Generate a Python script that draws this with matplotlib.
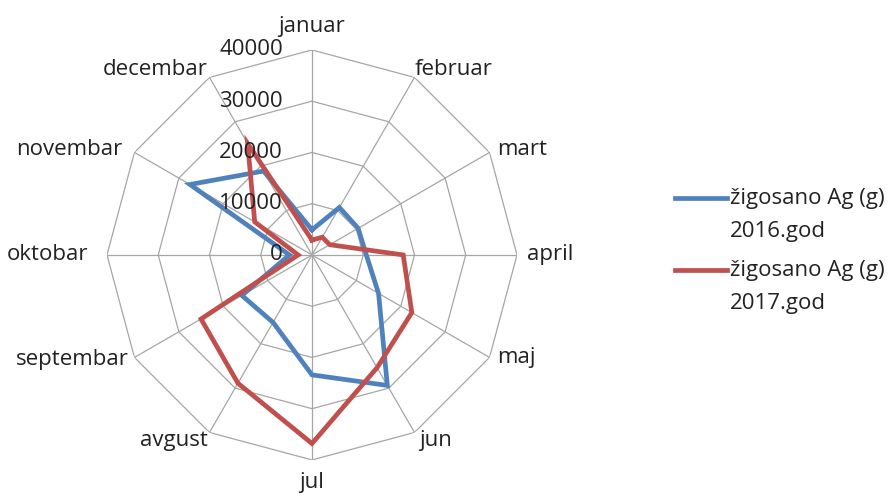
import numpy as np
import matplotlib.pyplot as plt
from matplotlib.lines import Line2D

plt.rcParams['font.family'] = ['Open Sans', 'DejaVu Sans']

months = ['januar', 'februar', 'mart', 'april', 'maj', 'jun',
          'jul', 'avgust', 'septembar', 'oktobar', 'novembar', 'decembar']
ag_2016 = [4900, 10700, 10400, 10600, 15000, 29400,
           23400, 15200, 15800, 4400, 27500, 18900]
ag_2017 = [2900, 4000, 4000, 17800, 22500, 25400,
           36800, 28900, 25000, 2700, 12900, 25100]
series_names = ['žigosano Ag (g)\n2016.god', 'žigosano Ag (g)\n2017.god']
series_colors = ['#4F81BD', '#C0504D']
r_ticks = [0, 10000, 20000, 30000, 40000]

# label offsets from the outer polygon vertex, in pixels
label_pos = [(0, 13, 'center', 'bottom'), (0, 8, 'left', 'center'),
             (8, 3, 'left', 'center'), (10, 0, 'left', 'center'),
             (8, 0, 'left', 'center'), (5, -8, 'left', 'center'),
             (0, -12, 'center', 'top'), (-2, -8, 'right', 'center'),
             (-6, -2, 'right', 'center'), (-19, 0, 'right', 'center'),
             (-12, 3, 'right', 'center'), (-2, 8, 'right', 'center')]

fs = 16
txt = '#222222'

fig = plt.figure(figsize=(8.96, 4.96), dpi=100)
ax = fig.add_axes([0.1194, 0.0727, 0.4576, 0.8266], projection='polar')
ax.set_theta_zero_location('N')
ax.set_theta_direction(-1)
ax.set_ylim(0, 40000)
ax.grid(False)
ax.set_xticks([])
ax.set_yticks([])
ax.spines['polar'].set_visible(False)

n = len(months)
theta = np.arange(n) * 2 * np.pi / n
closed = np.append(theta, theta[0])

# polygon grid + spokes
for r in r_ticks[1:]:
    ax.plot(closed, [r] * (n + 1), color='#a6a6a6', lw=0.9, zorder=1)
for t in theta:
    ax.plot([t, t], [0, r_ticks[-1]], color='#a6a6a6', lw=0.9, zorder=1)

for vals, c in zip([ag_2016, ag_2017], series_colors):
    ax.plot(closed, vals + vals[:1], color=c, lw=3.4, zorder=3,
            solid_joinstyle='miter')

# radial value labels
for r in r_ticks:
    ax.annotate(f'{r}', xy=(0, r), xytext=(-29, 0), textcoords='offset pixels',
                ha='right', va='center', fontsize=fs, color=txt, zorder=5)

# month labels
for t, m, (dx, dy, ha, va) in zip(theta, months, label_pos):
    ax.annotate(m, xy=(t, 40000), xytext=(dx, dy), textcoords='offset pixels',
                ha=ha, va=va, fontsize=fs, color=txt, annotation_clip=False)

# legend
for i, (name, c) in enumerate(zip(series_names, series_colors)):
    y = 1 - (198 + i * 72) / 496
    fig.add_artist(Line2D([675 / 896, 727 / 896], [y, y], color=c, lw=3.4,
                          transform=fig.transFigure))
    fig.text(730 / 896, y + 10 / 496, name, ha='left', va='top', fontsize=fs,
             color=txt, linespacing=1.75)

fig.savefig('out.png', dpi=100)
